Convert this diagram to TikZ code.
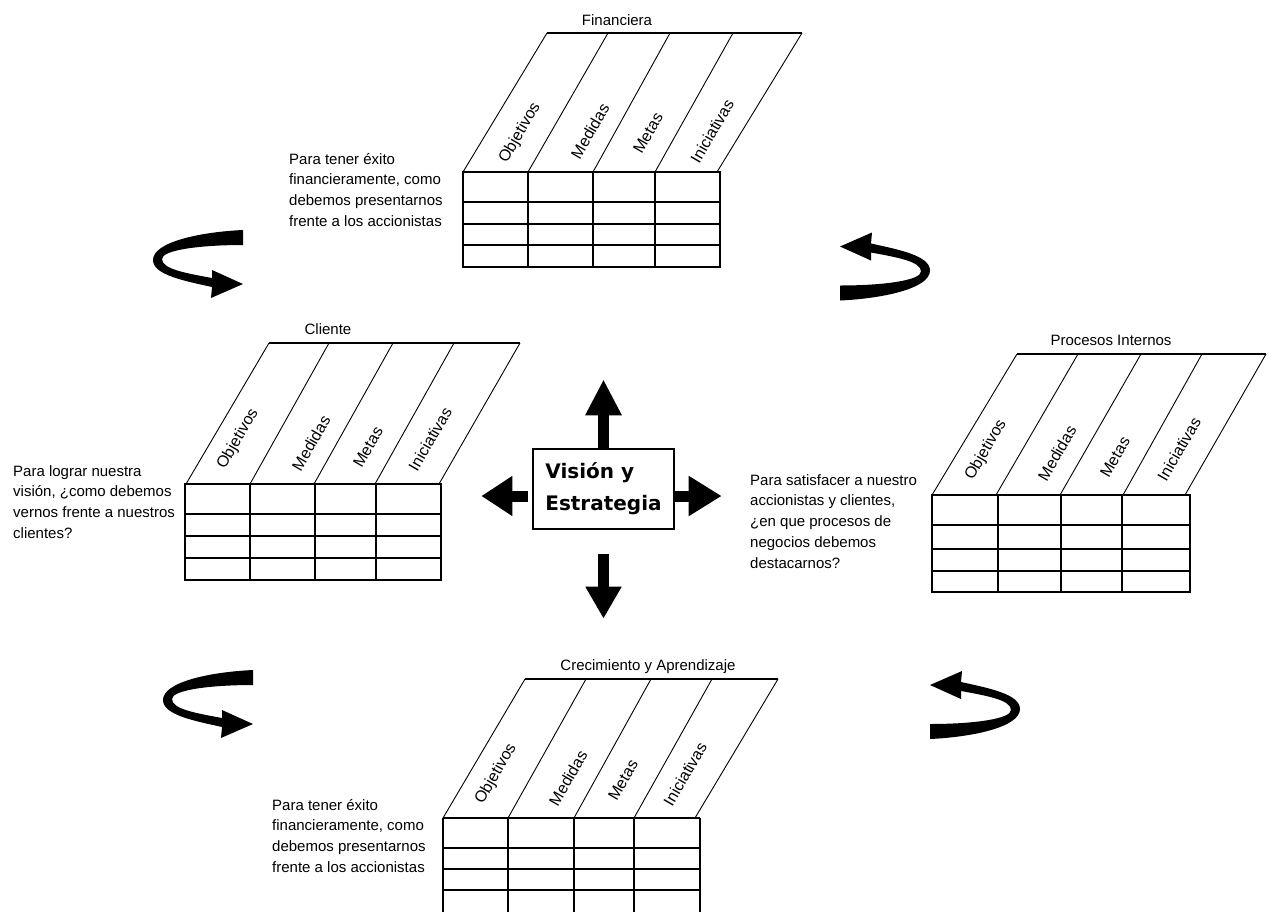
\documentclass[tikz,border=0pt]{standalone}
\usepackage{fontspec}
\setmainfont{Liberation Sans}
\newfontfamily\boxfont{DejaVu Sans}
\usetikzlibrary{arrows.meta,calc}

\tikzset{
  slant/.style={line width=0.9pt},
  topline/.style={line width=1.4pt},
  grid/.style={line width=1.4pt},
  colhead/.style={font=\fontsize{16}{18}\selectfont, rotate=60, inner sep=0pt},
  title/.style={font=\fontsize{15}{18}\selectfont, anchor=base, inner sep=0pt},
  % the base anchor of a multi-line node sits on its last line
  question/.style={font=\fontsize{15}{20.8}\selectfont, align=left, anchor=base west, inner sep=0pt},
  block arrow/.style={line width=11pt},
  loop arrow/.pic={
    \fill (45,-34) .. controls (2,-32) and (-45,-22) .. (-45,-4)
          .. controls (-45,11) and (-13,17) .. (14,23)
          -- (13,34) -- (45,20) -- (14,6) -- (14,14)
          .. controls (-13,9) and (-36,5) .. (-36,-5)
          .. controls (-36,-14) and (2,-19) .. (45,-19) -- cycle;
  }
}

\begin{document}
\begin{tikzpicture}[x=1pt,y=-1pt]
\useasboundingbox (0,0) rectangle (1269,911);
\clip (0,0) rectangle (1269,911);
\fill[white] (0,0) rectangle (1269,911);

% ---------- Financiera ----------
\node[title] (fin-title) at (617,25) {Financiera};
\draw[topline] (547,33) -- (802,33);
\foreach \b/\t in {463/547,528/608,593/670,655/733,717/802}
  \draw[slant] (\b,172) -- (\t,33);
\draw[grid] (463,172) rectangle (720,267);
\foreach \y in {202,224,245} \draw[grid] (463,\y) -- (720,\y);
\foreach \x in {528,593,655} \draw[grid] (\x,172) -- (\x,267);
\foreach \n/\x/\y/\s in {1/520/133/Objetivos,2/590/131/Medidas,3/648/133/Metas,4/712/131/Iniciativas}
  \node[colhead] (fin-\n) at (\x,\y) {\s};
\node[question] (fin-q) at (289,226.4)
  {Para tener éxito\\financieramente, como\\debemos presentarnos\\frente a los accionistas};

% ---------- Cliente ----------
\node[title] (cli-title) at (328,334) {Cliente};
\draw[topline] (269,343) -- (520,343);
\foreach \b/\t in {186/269,250/329,314/393,375/454,439/520}
  \draw[slant] (\b,484) -- (\t,343);
\draw[grid] (185,484) rectangle (441,580);
\foreach \y in {514,536,558} \draw[grid] (185,\y) -- (441,\y);
\foreach \x in {250,315,376} \draw[grid] (\x,484) -- (\x,580);
\foreach \n/\x/\y/\s in {1/238/439/Objetivos,2/311/443/Medidas,3/368/447/Metas,4/430/439/Iniciativas}
  \node[colhead] (cli-\n) at (\x,\y) {\s};
\node[question] (cli-q) at (13,538.4)
  {Para lograr nuestra\\visión, ¿como debemos\\vernos frente a nuestros\\clientes?};

% ---------- Procesos Internos ----------
\node[title] (pro-title) at (1111,345) {Procesos Internos};
\draw[topline] (1017,354) -- (1266,354);
\foreach \b/\t in {932/1017,996/1078,1060/1141,1123/1202,1185/1266}
  \draw[slant] (\b,495) -- (\t,354);
\draw[grid] (932,495) rectangle (1190,592);
\foreach \y in {525,549,571} \draw[grid] (932,\y) -- (1190,\y);
\foreach \x in {998,1061,1122} \draw[grid] (\x,495) -- (\x,592);
\draw[line width=2.6pt] (932,495) -- (1185,495);
\foreach \n/\x/\y/\s in {1/986/450/Objetivos,2/1057/453/Medidas,3/1115/457/Metas,4/1179/449/Iniciativas}
  \node[colhead] (pro-\n) at (\x,\y) {\s};
\node[question] (pro-q) at (750,568.2)
  {Para satisfacer a nuestro\\accionistas y clientes,\\¿en que procesos de\\negocios debemos\\destacarnos?};

% ---------- Crecimiento y Aprendizaje ----------
\node[title] (cre-title) at (648,670) {Crecimiento y Aprendizaje};
\draw[topline] (525,679) -- (778,679);
\foreach \b/\t in {443/525,508/586,574/651,634/712,695/778}
  \draw[slant] (\b,818) -- (\t,679);
\draw[grid] (443,818) -- (700,818);
\foreach \y in {848,869,890} \draw[grid] (443,\y) -- (700,\y);
\foreach \x in {443,508,574,634,700} \draw[grid] (\x,818) -- (\x,925);
\foreach \n/\x/\y/\s in {1/496/774/Objetivos,2/568/778/Medidas,3/623/780/Metas,4/685/774/Iniciativas}
  \node[colhead] (cre-\n) at (\x,\y) {\s};
\node[question] (cre-q) at (272,872.4)
  {Para tener éxito\\financieramente, como\\debemos presentarnos\\frente a los accionistas};

% ---------- Visión y Estrategia ----------
\node[draw, line width=1.3pt, minimum width=141pt, minimum height=80pt, inner sep=0pt,
      align=left, font={\boxfont\bfseries\fontsize{20}{32}\selectfont}]
  (vision) at (603.5,489) {Visión y\\Estrategia};

\coordinate (up-tip) at ($(vision.north)+(0,-69)$);
\coordinate (left-start) at ($(vision.west)+(-4,7)$);
\coordinate (left-tip) at ($(vision.west)+(-51,7)$);
\coordinate (right-start) at ($(vision.east)+(0,7)$);
\coordinate (right-tip) at ($(vision.east)+(47,7)$);
\coordinate (down-start) at ($(vision.south)+(0,24)$);
\coordinate (down-tip) at ($(vision.south)+(0,89)$);

\draw[block arrow, -{Triangle[width=34pt,length=36pt]}] (vision.north) -- (up-tip);
\draw[block arrow, -{Triangle[width=38pt,length=31pt]}] (left-start) -- (left-tip);
\draw[block arrow, -{Triangle[width=38pt,length=33pt]}] (right-start) -- (right-tip);
\draw[block arrow, -{Triangle[width=34pt,length=32pt]}] (down-start) -- (down-tip);

% ---------- circular arrows ----------
\pic at (198,264) {loop arrow};
\pic at (208,704) {loop arrow};
\pic[rotate=180] at (885,266.5) {loop arrow};
\pic[rotate=180] at (975,705) {loop arrow};
\end{tikzpicture}
\end{document}
